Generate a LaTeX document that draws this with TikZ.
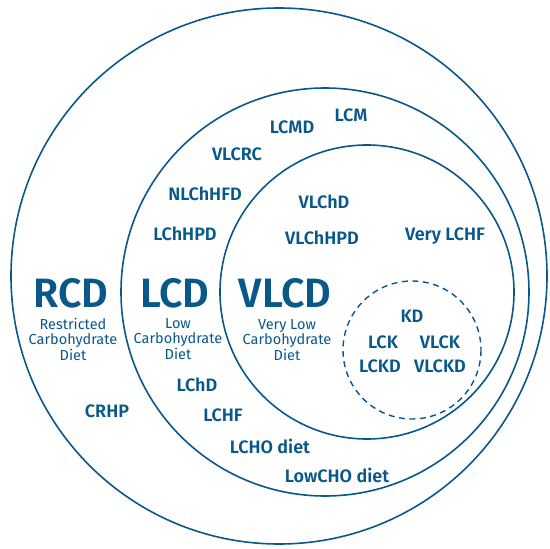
\documentclass[tikz,border=0pt]{standalone}
\usepackage{fontspec}
\setmainfont{Fira Sans}[BoldFont={Fira Sans SemiBold}]
\usepackage{tikz}
\usetikzlibrary{positioning, calc}

\definecolor{dietblue}{RGB}{8,88,138}

\begin{document}
\begin{tikzpicture}[
  x=1pt, y=-1pt,
  ring/.style={draw=dietblue, line width=1.6pt},
  ketoring/.style={draw=dietblue, line width=1.4pt, dash pattern=on 6pt off 4.5pt},
  termlabel/.style={text=dietblue, font=\fontsize{18}{20}\selectfont\bfseries, inner sep=0pt},
  bigabbr/.style={text=dietblue, font=\fontsize{41}{44}\selectfont\bfseries, inner sep=0pt},
  desclabel/.style={text=dietblue, font=\fontsize{14.5}{15.5}\selectfont, align=center, inner sep=0pt}
]
\useasboundingbox (0,0) rectangle (550,549);

% circles
\draw[ring] (279,276) circle[radius=268];
\draw[ring] (325,292) circle[radius=204];
\draw[ring] (367,292) circle[radius=147];
\draw[ketoring] (412,350) circle[radius=69];

% main groups
\node[bigabbr] (RCD) at (71,293) {RCD};
\node[desclabel] (RCDtext) at (73,339) {Restricted\\Carbohydrate\\Diet};
\node[bigabbr] (LCD) at (175,293) {LCD};
\node[desclabel] (LCDtext) at (178,339) {Low\\Carbohydrate\\Diet};
\node[bigabbr] (VLCD) at (285,293) {VLCD};
\node[desclabel] (VLCDtext) at (287,340) {Very Low\\Carbohydrate\\Diet};

% RCD ring
\node[termlabel] (CRHP) at (107,411) {CRHP};

% LCD ring
\node[termlabel] (LCM)     at (351,115) {LCM};
\node[termlabel] (LCMD)    at (292,127) {LCMD};
\node[termlabel] (VLCRC)   at (237,154) {VLCRC};
\node[termlabel] (NLChHFD) at (205,194) {NLChHFD};
\node[termlabel] (LChHPD)  at (185,234) {LChHPD};
\node[termlabel] (LChD)    at (197,385) {LChD};
\node[termlabel] (LCHF)    at (223,415) {LCHF};
\node[termlabel] (LCHOdiet)   at (270,446) {LCHO diet};
\node[termlabel] (LowCHOdiet) at (337,475) {LowCHO diet};

% VLCD ring
\node[termlabel] (VLChD)    at (324,202) {VLChD};
\node[termlabel] (VLChHPD)  at (322,238) {VLChHPD};
\node[termlabel] (VeryLCHF) at (445,236) {Very LCHF};

% ketogenic
\node[termlabel] (KD)    at (412,316) {KD};
\node[termlabel] (LCK)   at (383,342) {LCK};
\node[termlabel] (VLCK)  at (440,342) {VLCK};
\node[termlabel] (LCKD)  at (380,366) {LCKD};
\node[termlabel] (VLCKD) at (440,366) {VLCKD};

\end{tikzpicture}
\end{document}
